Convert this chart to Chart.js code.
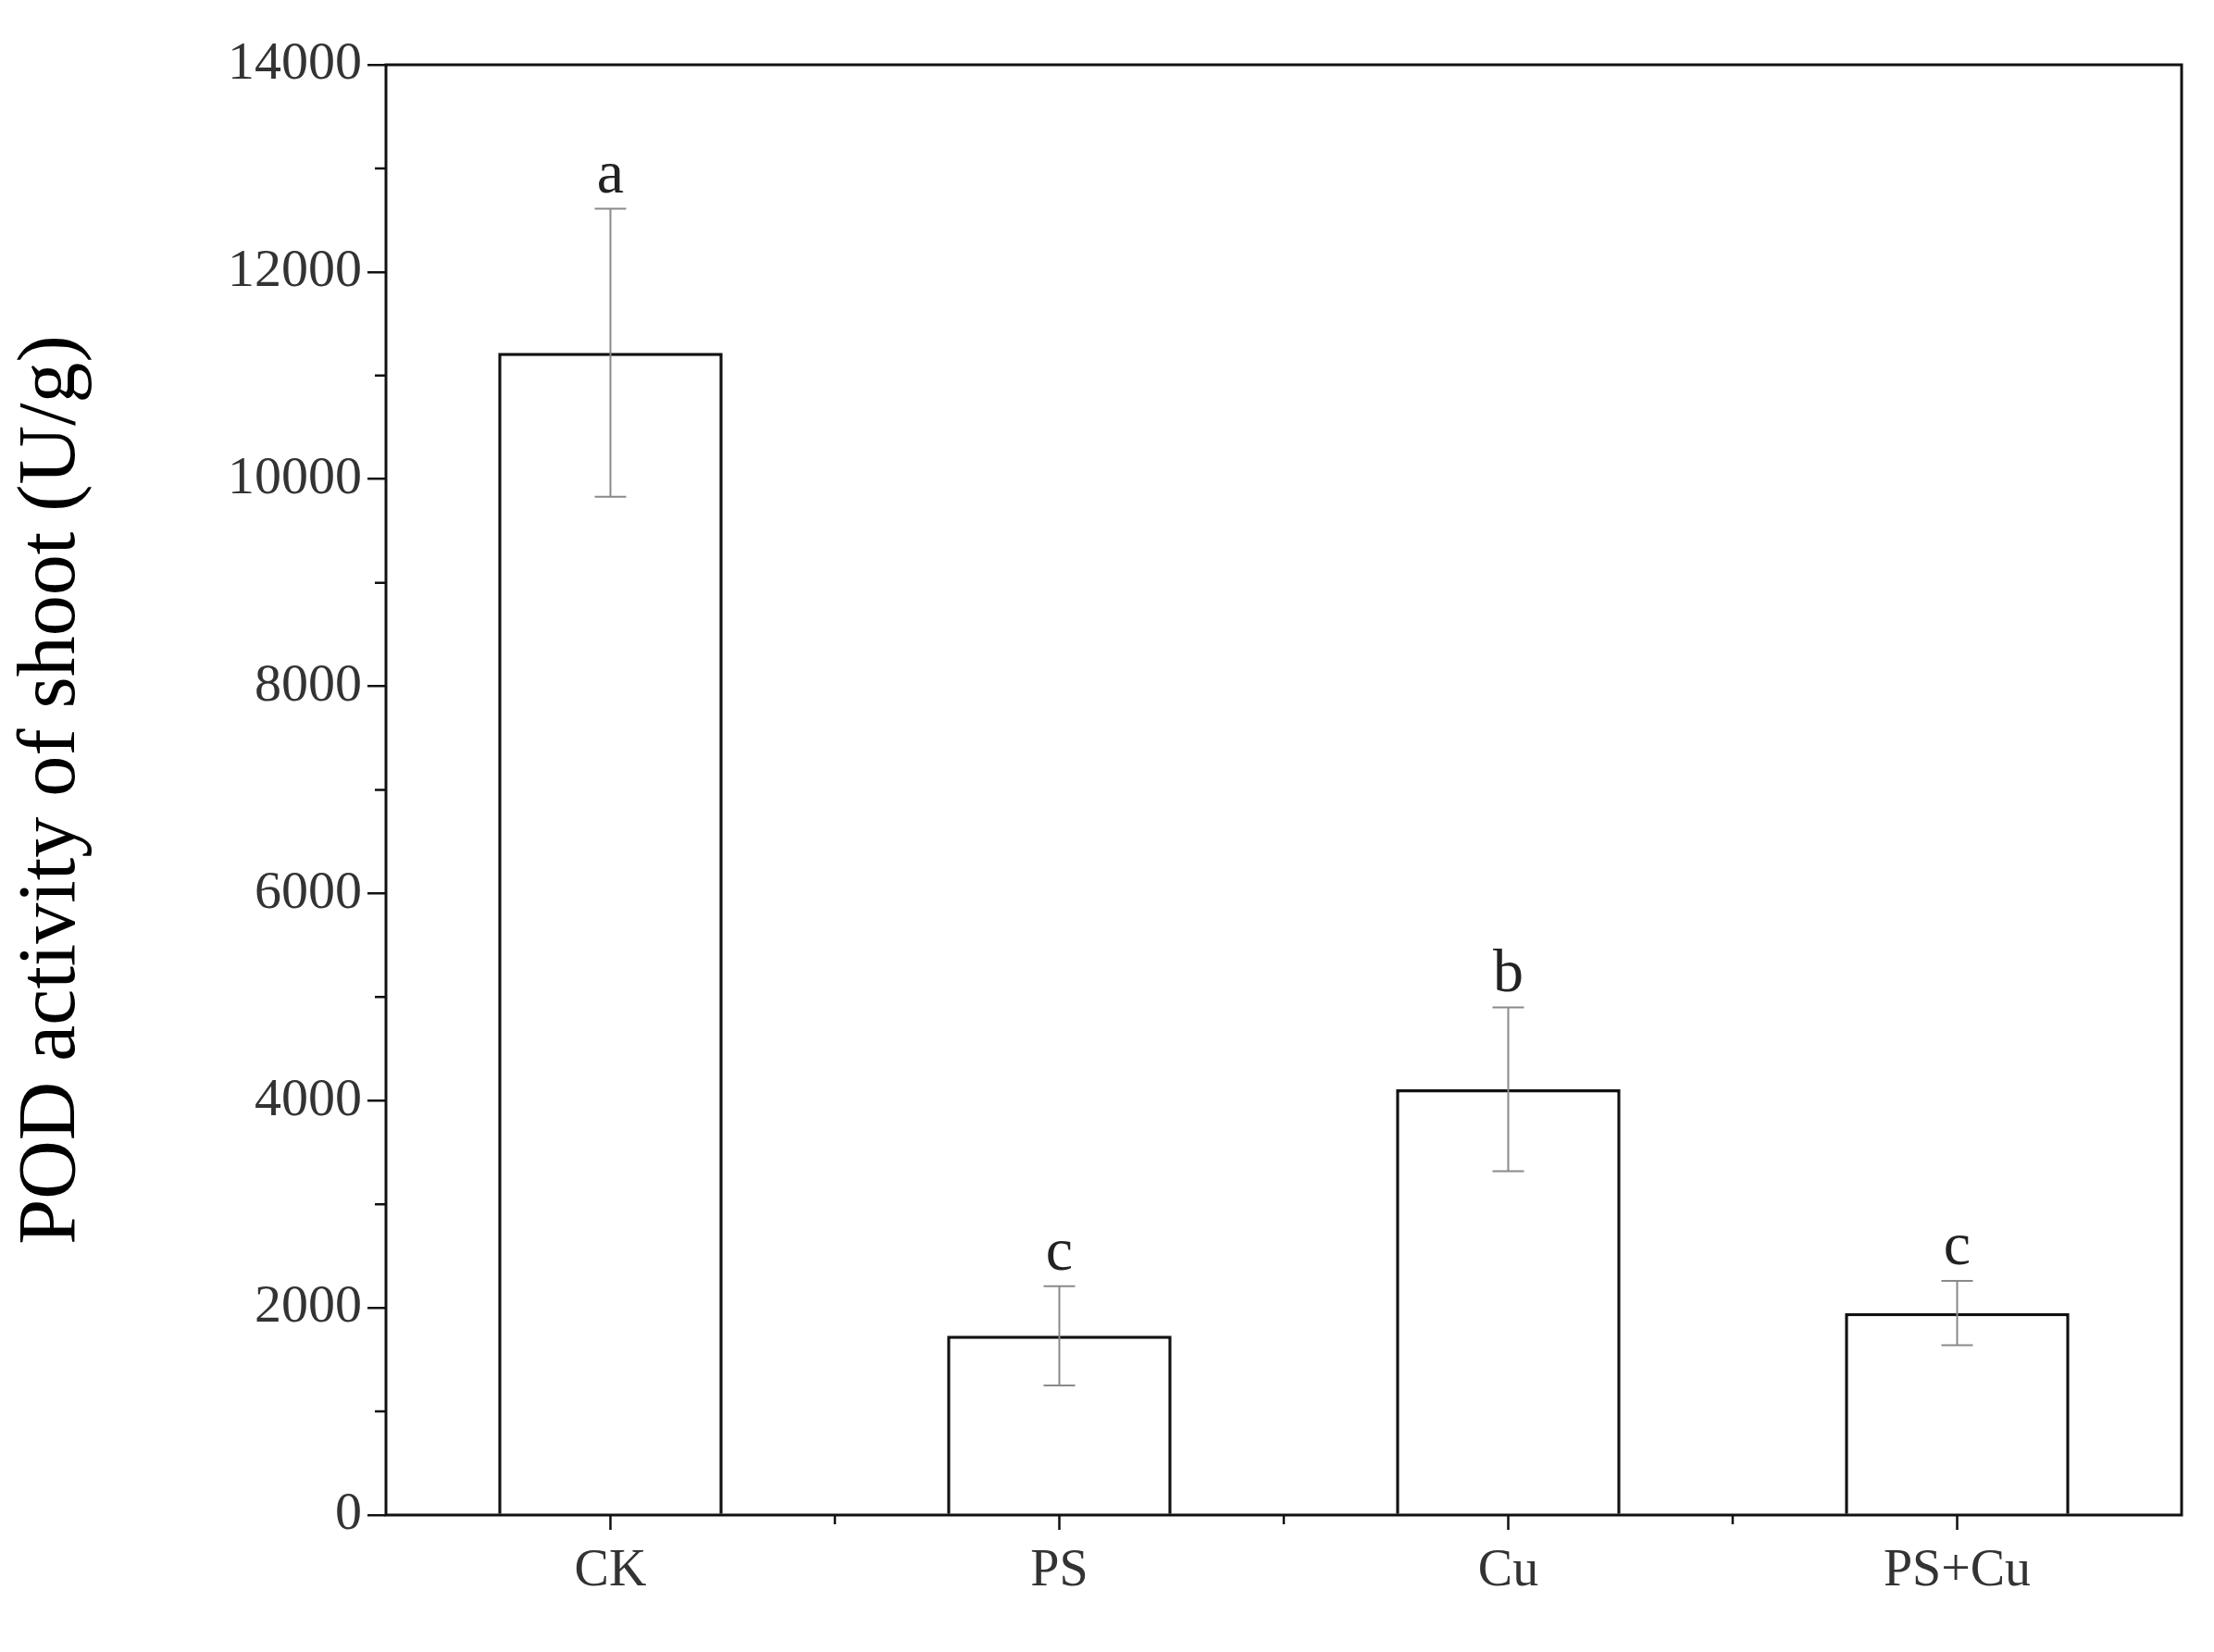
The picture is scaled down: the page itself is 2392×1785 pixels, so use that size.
<!DOCTYPE html>
<html>
<head>
<meta charset="utf-8">
<script src="https://cdn.jsdelivr.net/npm/chart.js@4"></script>
<style>
  body { margin: 0; background: #fff; }
</style>
</head>
<body>
<canvas id="podChart" width="2392" height="1785"></canvas>
<script>
'use strict';

// data
const treatments = ['CK', 'PS', 'Cu', 'PS+Cu'];
const podValues = [11220, 1730, 4110, 1950];
const podErrors = [1390, 480, 790, 310];
const sigLetters = ['a', 'c', 'b', 'c'];
const yTicks = [0, 2000, 4000, 6000, 8000, 10000, 12000, 14000];

const serif = '"Liberation Serif", "DejaVu Serif", serif';

// error bars, letters, frame and minor ticks
const extrasPlugin = {
  id: 'extras',
  afterDatasetsDraw(chart) {
    const c = chart.ctx;
    const xs = chart.scales.x;
    const ys = chart.scales.y;
    const area = chart.chartArea;
    c.save();
    // error bars
    c.strokeStyle = '#8a8a8a';
    c.lineWidth = 2;
    for (let i = 0; i < podValues.length; i++) {
      const x = xs.getPixelForValue(i);
      const top = ys.getPixelForValue(podValues[i] + podErrors[i]);
      const bot = ys.getPixelForValue(podValues[i] - podErrors[i]);
      c.beginPath();
      c.moveTo(x, top); c.lineTo(x, bot);
      c.moveTo(x - 17, top); c.lineTo(x + 17, top);
      c.moveTo(x - 17, bot); c.lineTo(x + 17, bot);
      c.stroke();
      // letters
      c.fillStyle = '#222';
      c.font = '66px ' + serif;
      c.textAlign = 'center';
      c.textBaseline = 'bottom';
      c.fillText(sigLetters[i], x, top - 2);
    }
    // frame
    c.strokeStyle = '#111';
    c.lineWidth = 3;
    c.strokeRect(area.left, area.top, area.right - area.left, area.bottom - area.top);
    // y minor ticks
    c.lineWidth = 2.5;
    c.beginPath();
    for (let v = 1000; v < 14000; v += 2000) {
      const y = ys.getPixelForValue(v);
      c.moveTo(area.left - 12, y); c.lineTo(area.left, y);
    }
    // x ticks at centres and boundaries
    const w = (area.right - area.left) / treatments.length;
    for (let i = 0; i < treatments.length; i++) {
      const xc = xs.getPixelForValue(i);
      c.moveTo(xc, area.bottom); c.lineTo(xc, area.bottom + 16);
      if (i > 0) {
        const xb = area.left + w * i;
        c.moveTo(xb, area.bottom); c.lineTo(xb, area.bottom + 10);
      }
    }
    c.stroke();
    c.restore();
  }
};

const ctx = document.getElementById('podChart').getContext('2d');

const chartObj = {
  type: 'bar',
  data: {
    labels: treatments,
    datasets: [{
      label: 'POD activity',
      data: podValues,
      backgroundColor: '#ffffff',
      borderColor: '#111111',
      borderWidth: 3.5,
      borderSkipped: 'bottom',
      categoryPercentage: 1.0,
      barPercentage: 0.5
    }]
  },
  options: {
    responsive: false,
    animation: false,
    devicePixelRatio: 1,
    layout: { padding: { top: 70, right: 35, left: 0, bottom: 0 } },
    plugins: { legend: { display: false }, tooltip: { enabled: false } },
    scales: {
      x: {
        grid: { display: false },
        border: { display: false },
        ticks: { color: '#333', font: { family: serif, size: 56 }, padding: 20 },
        afterFit: s => { s.height = 148; }
      },
      y: {
        min: 0,
        max: 14000,
        afterBuildTicks: s => { s.ticks = yTicks.map(v => ({ value: v })); },
        grid: { drawOnChartArea: false, tickLength: 20, tickColor: '#111', lineWidth: 2.5 },
        border: { display: false },
        ticks: { color: '#333', font: { family: serif, size: 58 }, padding: 6, callback: v => String(v) },
        title: {
          display: true,
          text: 'POD activity of shoot (U/g)',
          color: '#000',
          font: { family: serif, size: 88 },
          padding: { bottom: 30 }
        },
        afterFit: s => { s.width = 417; }
      }
    }
  },
  plugins: [extrasPlugin]
};

const myChart = new Chart(ctx, chartObj);
</script>
</body>
</html>
